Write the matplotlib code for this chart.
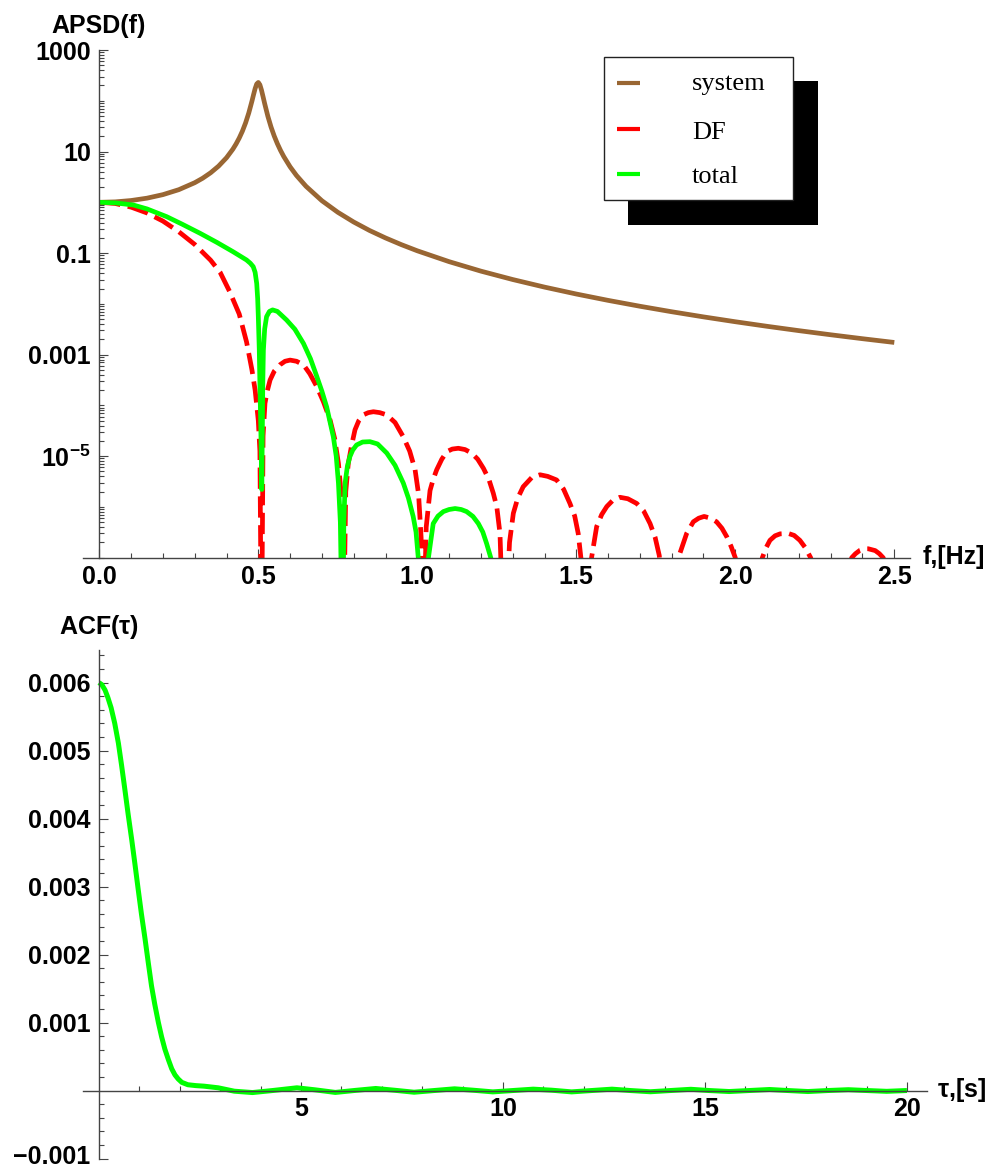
import matplotlib
matplotlib.use("Agg")
import matplotlib.pyplot as plt
from matplotlib.patches import Rectangle
from matplotlib.transforms import ScaledTranslation
from matplotlib.ticker import FixedLocator, FixedFormatter, NullFormatter

# ---------------- data ----------------
# system response
sys_f = [0.0, 0.05, 0.1, 0.15, 0.2, 0.25, 0.3, 0.325, 0.35, 0.375, 0.4, 0.42, 0.43, 0.44,
         0.45, 0.46, 0.47, 0.48, 0.485, 0.49, 0.495, 0.5, 0.505, 0.51, 0.515, 0.52, 0.53,
         0.54, 0.55, 0.56, 0.57, 0.58, 0.6, 0.62, 0.65, 0.7, 0.75, 0.8, 0.85, 0.9, 0.95,
         1.0, 1.1, 1.2, 1.3, 1.4, 1.5, 1.6, 1.7, 1.8, 1.9, 2.0, 2.1, 2.2, 2.3, 2.4, 2.5]
sys_v = [1.0, 1.02, 1.085, 1.207, 1.416, 1.774, 2.432, 2.98, 3.815, 5.16, 7.55, 11.14,
         14.08, 18.43, 25.23, 36.7, 57.5, 98.4, 131.7, 173.9, 214.4, 229.6, 206.3, 162.2,
         120.0, 88.0, 49.6, 30.5, 20.26, 14.25, 10.48, 7.98, 5.0, 3.38, 2.068, 1.075,
         0.636, 0.409, 0.2783, 0.1987, 0.1465, 0.1109, 0.0678, 0.0441, 0.03014, 0.02137,
         0.01562, 0.01171, 0.00897, 0.00699, 0.005536, 0.004444, 0.003611, 0.002966,
         0.00246, 0.002058, 0.001736]

# DF (dashed red)
df_f = [0.0, 0.05, 0.1, 0.15, 0.2, 0.25, 0.3, 0.35, 0.38, 0.41, 0.44, 0.463, 0.48, 0.49,
        0.5, 0.505, 0.51, 0.515, 0.521, 0.528, 0.537, 0.55, 0.568, 0.584, 0.6, 0.62,
        0.642, 0.662, 0.684, 0.705, 0.726, 0.74, 0.752, 0.76, 0.767,
        0.775, 0.783, 0.793, 0.804, 0.816, 0.83, 0.846, 0.862, 0.882, 0.904, 0.93,
        0.956, 0.976, 0.993, 1.004, 1.012, 1.018,
        1.028, 1.04, 1.05, 1.061, 1.077, 1.093, 1.11, 1.129, 1.15, 1.171, 1.19, 1.208,
        1.225, 1.239, 1.25, 1.26, 1.273,
        1.29, 1.302, 1.316, 1.333, 1.36, 1.386, 1.41, 1.438, 1.46, 1.48, 1.495, 1.506,
        1.518, 1.53,
        1.548, 1.564, 1.58, 1.596, 1.615, 1.637, 1.662, 1.69, 1.712, 1.732, 1.748,
        1.761, 1.787,
        1.826, 1.847, 1.868, 1.885, 1.902, 1.922, 1.941, 1.958, 1.973, 1.987, 2.0, 2.04,
        2.085, 2.097, 2.109, 2.125, 2.141, 2.167, 2.185, 2.203, 2.22, 2.237, 2.30,
        2.366, 2.378, 2.392, 2.405, 2.418, 2.44, 2.453, 2.465, 2.5]
df_v = [1.0, 0.948, 0.803, 0.617, 0.427, 0.263, 0.148, 0.0724, 0.0417, 0.0174, 6.3e-3,
        1.78e-3, 5.0e-4, 2.0e-4, 5.0e-5, 1.26e-5, 1e-9, 2.5e-5, 1.1e-4, 1.9e-4, 3.16e-4,
        4.7e-4, 6.3e-4, 7.4e-4, 7.8e-4, 7.4e-4, 6.3e-4, 4.2e-4, 2.34e-4, 1.17e-4, 5.1e-5,
        2.24e-5, 7.2e-6, 2.0e-6, 1e-9,
        2.0e-6, 7.2e-6, 1.58e-5, 3.3e-5, 5.0e-5, 6.5e-5, 7.2e-5, 7.5e-5, 7.2e-5, 6.5e-5,
        4.6e-5, 2.4e-5, 1.26e-5, 5.4e-6, 1.78e-6, 2.5e-7, 1e-9,
        4.0e-7, 2.1e-6, 3.5e-6, 5.4e-6, 8.7e-6, 1.23e-5, 1.38e-5, 1.43e-5, 1.35e-5,
        1.15e-5, 8.7e-6, 5.75e-6, 3.5e-6, 1.86e-6, 1.0e-6, 3.0e-7, 1e-9,
        2.0e-7, 7.5e-7, 1.5e-6, 2.5e-6, 3.8e-6, 4.3e-6, 4.0e-6, 3.4e-6, 2.24e-6, 1.17e-6,
        6.6e-7, 3.0e-7, 6.3e-8, 1e-9,
        1.0e-7, 4.1e-7, 7.1e-7, 1.02e-6, 1.35e-6, 1.55e-6, 1.45e-6, 1.17e-6, 8.3e-7,
        4.7e-7, 2.5e-7, 1.1e-7, 1e-9,
        1.23e-7, 3.0e-7, 5.1e-7, 6.0e-7, 6.5e-7, 6.0e-7, 5.1e-7, 3.8e-7, 2.6e-7, 1.66e-7,
        1.0e-7, 1e-9,
        1.0e-7, 1.58e-7, 2.2e-7, 2.7e-7, 2.95e-7, 3.0e-7, 2.75e-7, 2.2e-7, 1.58e-7,
        1.0e-7, 1e-9,
        1.0e-7, 1.2e-7, 1.4e-7, 1.5e-7, 1.5e-7, 1.38e-7, 1.2e-7, 1.0e-7, 2.5e-8]

# total (green)
tot_f = [0.0, 0.05, 0.107, 0.15, 0.212, 0.26, 0.317, 0.37, 0.421, 0.463, 0.475, 0.484,
         0.49, 0.495, 0.498, 0.5, 0.503, 0.505, 0.508, 0.511, 0.5125, 0.514, 0.516, 0.52,
         0.526, 0.535, 0.545, 0.56, 0.589, 0.615, 0.642, 0.664, 0.684, 0.7, 0.715, 0.736,
         0.745, 0.752, 0.758, 0.765,
         0.769, 0.773, 0.78, 0.788, 0.797, 0.809, 0.828, 0.851, 0.875, 0.904, 0.93, 0.956,
         0.972, 0.987, 0.996, 1.003, 1.018,
         1.035, 1.05, 1.065, 1.082, 1.1, 1.119, 1.138, 1.155, 1.175, 1.192, 1.206, 1.218,
         1.231, 1.25]
tot_v = [1.0, 0.973, 0.885, 0.741, 0.521, 0.372, 0.245, 0.162, 0.106, 0.0731, 0.063,
         0.054, 0.0417, 0.0251, 0.0126, 5.6e-3, 1.26e-3, 2.7e-4, 3.2e-5, 2.2e-6, 2.5e-5,
         2.5e-4, 1.23e-3, 3.2e-3, 5.6e-3, 7.1e-3, 7.6e-3, 7.1e-3, 4.8e-3, 3.16e-3,
         1.66e-3, 8.3e-4, 3.7e-4, 1.9e-4, 9.3e-5, 2.4e-5, 1.0e-5, 2.95e-6, 5.0e-7, 1e-9,
         5.0e-7, 2.95e-6, 6.3e-6, 9.8e-6, 1.32e-5, 1.66e-5, 1.9e-5, 1.93e-5, 1.74e-5,
         1.15e-5, 6.6e-6, 2.95e-6, 1.5e-6, 6.5e-7, 3.2e-7, 1.0e-7, 1e-9,
         1.0e-7, 4.7e-7, 6.6e-7, 8.1e-7, 8.9e-7, 9.3e-7, 8.9e-7, 8.1e-7, 6.5e-7, 4.7e-7,
         3.2e-7, 1.9e-7, 1.0e-7, 1e-8]

# autocorrelation function
acf_t = [0.0, 0.07, 0.15, 0.22, 0.3, 0.39, 0.48, 0.56, 0.64, 0.72, 0.81, 0.89, 0.97,
         1.05, 1.14, 1.22, 1.30, 1.38, 1.47, 1.55, 1.63, 1.72, 1.80, 1.88, 1.96, 2.05,
         2.2, 2.4, 2.6, 2.95, 3.35, 3.8, 4.3, 4.9, 5.35, 5.85, 6.35, 6.85, 7.3, 7.8, 8.3,
         8.8, 9.25, 9.75, 10.25, 10.75, 11.2, 11.7, 12.2, 12.7, 13.15, 13.65, 14.15,
         14.65, 15.1, 15.6, 16.1, 16.6, 17.05, 17.55, 18.05, 18.55, 19.0, 19.5, 20.0]
acf_v = [0.006, 0.00597, 0.00589, 0.00578, 0.00563, 0.00540, 0.00511, 0.00478, 0.00443,
         0.00407, 0.00369, 0.00333, 0.00296, 0.00260, 0.00223, 0.00188, 0.00154,
         0.00127, 0.00100, 0.00079, 0.00061, 0.00045, 0.00032, 0.00023, 0.00017,
         0.00012, 0.000085, 0.000072, 0.000064, 0.00004, -0.00001, -0.00003, 0.0,
         0.00004, 0.00001, -0.000028, 0.000002, 0.00003, 0.000005, -0.000025, 0.0,
         0.000025, 0.000005, -0.00002, 0.0, 0.00002, 0.000005, -0.00002, 0.0, 0.00002,
         0.0, -0.000018, 0.0, 0.000018, 0.0, -0.000015, 0.0, 0.000015, 0.0, -0.000015,
         0.0, 0.000012, 0.0, -0.000012, 0.0]

series_names = ["system", "DF", "total"]

f_ticks = [0.0, 0.5, 1.0, 1.5, 2.0, 2.5]
f_ticklabels = ["0.0", "0.5", "1.0", "1.5", "2.0", "2.5"]
apsd_ticks = [1e3, 1e1, 1e-1, 1e-3, 1e-5]
apsd_ticklabels = ["1000", "10", "0.1", "0.001", r"$10^{-5}$"]
tau_ticks = [5, 10, 15, 20]
tau_ticklabels = ["5", "10", "15", "20"]
acf_ticks = [-0.001, 0.001, 0.002, 0.003, 0.004, 0.005, 0.006]
acf_ticklabels = ["\u22120.001", "0.001", "0.002", "0.003", "0.004", "0.005", "0.006"]

# ---------------- styling ----------------
FS = 18
plt.rcParams.update({
    "font.family": ["Liberation Sans", "DejaVu Sans"],
    "font.weight": "bold",
    "font.size": FS,
    "mathtext.fontset": "custom",
    "mathtext.rm": "Liberation Sans:bold",
    "mathtext.bf": "Liberation Sans:bold",
    "mathtext.it": "Liberation Serif:italic",
    "mathtext.default": "regular",
})

C_SYS, C_DF, C_TOT = "#996633", "#FF0000", "#00FF00"
AXC = "#444444"
W, H = 994, 1171
fig = plt.figure(figsize=(W / 100, H / 100), dpi=100)


def frac(x0, y0, x1, y1):
    return [x0 / W, 1 - y1 / H, (x1 - x0) / W, (y1 - y0) / H]


def style_axes(ax):
    for s in ("top", "right"):
        ax.spines[s].set_visible(False)
    for s in ("left", "bottom"):
        ax.spines[s].set_color(AXC)
        ax.spines[s].set_linewidth(1.0)
    ax.tick_params(which="major", direction="in", length=6.5, width=0.8, color=AXC,
                   labelsize=FS, labelcolor="black")
    ax.tick_params(which="minor", direction="in", length=3.3, width=0.8, color=AXC)
    ax.tick_params(axis="x", pad=5.0)
    ax.tick_params(axis="y", pad=6.0)


# ---------------- top panel ----------------
ax1 = fig.add_axes(frac(83, 50, 910, 557.7))
ax1.set_yscale("log")
ax1.set_xlim(-0.0513, 2.5494)
ax1.set_ylim(1e-7, 1000)
style_axes(ax1)
ax1.spines["left"].set_position(("data", 0))

lw = 3.4
ax1.plot(sys_f, sys_v, color=C_SYS, lw=lw, solid_capstyle="butt", solid_joinstyle="round")
ax1.plot(df_f, df_v, color=C_DF, lw=lw, linestyle=(0, (4.5, 1.6)), dash_capstyle="butt",
         dash_joinstyle="round")
ax1.plot(tot_f, tot_v, color=C_TOT, lw=lw, solid_capstyle="butt", solid_joinstyle="round")

ax1.xaxis.set_major_locator(FixedLocator(f_ticks))
ax1.xaxis.set_major_formatter(FixedFormatter(f_ticklabels))
ax1.xaxis.set_minor_locator(FixedLocator([i / 10 for i in range(1, 25) if i % 5]))
ax1.yaxis.set_major_locator(FixedLocator(apsd_ticks))
ax1.yaxis.set_major_formatter(FixedFormatter(apsd_ticklabels))
minors = [m * 10.0 ** k for k in range(-7, 3) for m in range(1, 10)] + [1000.0]
minors = [v for v in minors if all(abs(v / t - 1) > 1e-6 for t in apsd_ticks)]
ax1.yaxis.set_minor_locator(FixedLocator(minors))
ax1.yaxis.set_minor_formatter(NullFormatter())

# ---------------- bottom panel ----------------
ax2 = fig.add_axes(frac(83, 650, 926.7, 1158.5))
ax2.set_xlim(-0.396, 20.49)
ax2.set_ylim(-0.001, 0.00648)
style_axes(ax2)
ax2.spines["left"].set_position(("data", 0))
ax2.spines["bottom"].set_position(("data", 0))
ax2.plot(acf_t, acf_v, color=C_TOT, lw=3.6, solid_capstyle="butt", solid_joinstyle="round")
ax2.xaxis.set_major_locator(FixedLocator(tau_ticks))
ax2.xaxis.set_major_formatter(FixedFormatter(tau_ticklabels))
ax2.xaxis.set_minor_locator(FixedLocator([i for i in range(1, 20) if i % 5]))
ax2.yaxis.set_major_locator(FixedLocator(acf_ticks))
ax2.yaxis.set_major_formatter(FixedFormatter(acf_ticklabels))
ax2.yaxis.set_minor_locator(FixedLocator([i * 0.0002 for i in range(-4, 33) if i % 5]))
ax2.yaxis.set_minor_formatter(NullFormatter())

# keep the lowest tick label inside the canvas
fig.canvas.draw()
lowest = ax2.yaxis.get_majorticklabels()[0]
lowest.set_transform(lowest.get_transform() + ScaledTranslation(0, 3.5 / 100, fig.dpi_scale_trans))

# ---------------- overlay: axis labels and legend ----------------
ov = fig.add_axes([0, 0, 1, 1], zorder=10)
ov.set_xlim(0, W)
ov.set_ylim(H, 0)
ov.axis("off")

ov.text(98.5, 33.5, "APSD(f)", ha="center", va="baseline", fontsize=FS, fontweight="bold")
ov.text(923, 557, "f,[Hz]", ha="left", va="center", fontsize=FS, fontweight="bold")
ov.text(98.5, 634, r"ACF($\tau$)", ha="center", va="baseline", fontsize=FS, fontweight="bold")
ov.text(937, 1090, r"$\tau$,[s]", ha="left", va="center", fontsize=FS, fontweight="bold")

ov.add_patch(Rectangle((628.3, 81), 189.4, 144, facecolor="black", edgecolor="black", lw=0))
ov.add_patch(Rectangle((604, 57), 188.7, 143, facecolor="white", edgecolor="#222222", lw=1.0))
rows_y = [83.3, 129.0, 174.3]
base_y = [90.0, 139.3, 183.3]
for name, col, ly, by in zip(series_names, [C_SYS, C_DF, C_TOT], rows_y, base_y):
    ov.plot([617, 640], [ly, ly], color=col, lw=3.0, solid_capstyle="butt")
    ov.text(692, by, name, ha="left", va="baseline", fontsize=19,
            family=["Liberation Serif", "DejaVu Serif"], fontweight="normal")

fig.savefig("out.png", dpi=100)
